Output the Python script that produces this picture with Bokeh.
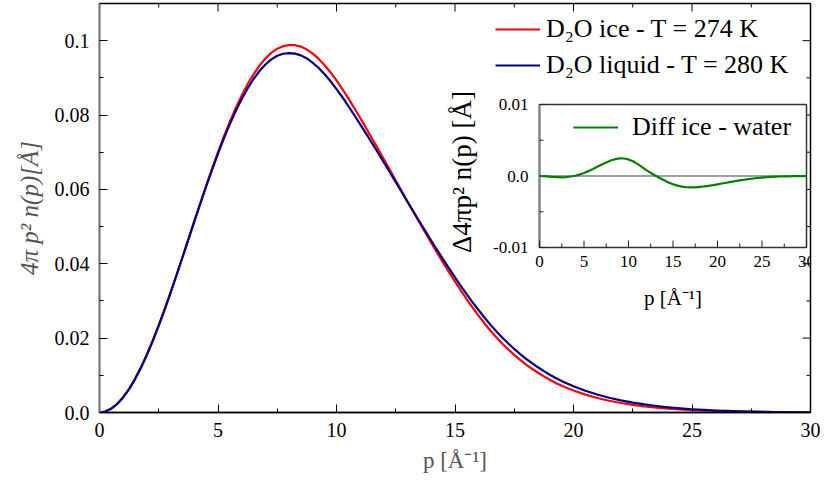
from math import pi
from bokeh.plotting import figure
from bokeh.models import (Range1d, FixedTicker, Legend, LegendItem,
                          ColumnDataSource, Label)
from bokeh.core.properties import value
from bokeh.embed import file_html
from bokeh.resources import INLINE

# ---------------- data ----------------
# momentum grid of the main curves [1/Angstrom]
momentum = [0.0, 0.25, 0.5, 0.75, 1.0, 1.25, 1.5, 1.75, 2.0, 2.25, 2.5, 2.75,
            3.0, 3.25, 3.5, 3.75, 4.0, 4.25, 4.5, 4.75, 5.0, 5.25, 5.5, 5.75,
            6.0, 6.25, 6.5, 6.75, 7.0, 7.25, 7.5, 7.75, 8.0, 8.25, 8.5, 8.75,
            9.0, 9.25, 9.5, 9.75, 10.0, 10.25, 10.5, 10.75, 11.0, 11.25, 11.5, 11.75,
            12.0, 12.25, 12.5, 12.75, 13.0, 13.25, 13.5, 13.75, 14.0, 14.25, 14.5, 14.75,
            15.0, 15.25, 15.5, 15.75, 16.0, 16.25, 16.5, 16.75, 17.0, 17.25, 17.5, 17.75,
            18.0, 18.25, 18.5, 18.75, 19.0, 19.25, 19.5, 19.75, 20.0,
            20.5, 21.0, 21.5, 22.0, 22.5, 23.0, 23.5, 24.0, 24.5, 25.0,
            25.5, 26.0, 26.5, 27.0, 27.5, 28.0, 28.5, 29.0, 29.5, 30.0]

ice_274K = [0.0, 0.00026, 0.00102, 0.00229, 0.00404, 0.00626, 0.00892, 0.01199,
            0.01543, 0.01922, 0.02330, 0.02763, 0.03217, 0.03687, 0.04168, 0.04654,
            0.05141, 0.05624, 0.06098, 0.06559, 0.07003, 0.07426, 0.07823, 0.08191,
            0.08527, 0.08830, 0.09097, 0.09328, 0.09520, 0.09673, 0.09785, 0.09852,
            0.09880, 0.09878, 0.09840, 0.09762, 0.09650, 0.09509, 0.09340, 0.09146,
            0.08930, 0.08698, 0.08450, 0.08189, 0.07920, 0.07647, 0.07370, 0.07091,
            0.06810, 0.06526, 0.06240, 0.05954, 0.05670, 0.05389, 0.05110, 0.04833,
            0.04560, 0.04293, 0.04030, 0.03772, 0.03520, 0.03276, 0.03040, 0.02815,
            0.02600, 0.02394, 0.02200, 0.02019, 0.01850, 0.01694, 0.01550, 0.01415,
            0.01290, 0.01176, 0.01070, 0.00971, 0.00880, 0.00796, 0.00720, 0.00652,
            0.00590,
            0.00480, 0.00390, 0.00315, 0.00255, 0.00205, 0.00165, 0.00132, 0.00105,
            0.00083, 0.00066, 0.00052, 0.00041, 0.00032, 0.00025, 0.00019, 0.00015,
            0.00011, 0.00008, 0.00006, 0.00004]

liquid_280K = [0.0, 0.00028, 0.00105, 0.00235, 0.00412, 0.00637, 0.00905, 0.01214,
               0.01559, 0.01939, 0.02348, 0.02780, 0.03232, 0.03698, 0.04175, 0.04656,
               0.05138, 0.05613, 0.06078, 0.06528, 0.06961, 0.07371, 0.07755, 0.08109,
               0.08430, 0.08718, 0.08969, 0.09184, 0.09360, 0.09498, 0.09595, 0.09649,
               0.09664, 0.09653, 0.09605, 0.09522, 0.09404, 0.09264, 0.09095, 0.08908,
               0.08698, 0.08479, 0.08243, 0.08001, 0.07750, 0.07498, 0.07242, 0.06986,
               0.06727, 0.06463, 0.06197, 0.05929, 0.05662, 0.05399, 0.05137, 0.04877,
               0.04620, 0.04368, 0.04120, 0.03875, 0.03635, 0.03401, 0.03175, 0.02957,
               0.02749, 0.02547, 0.02357, 0.02178, 0.02010, 0.01854, 0.01709, 0.01571,
               0.01443, 0.01326, 0.01216, 0.01113, 0.01017, 0.00928, 0.00847, 0.00774,
               0.00706,
               0.00585, 0.00484, 0.00398, 0.00327, 0.00267, 0.00217, 0.00175, 0.00140,
               0.00111, 0.00088, 0.00069, 0.00054, 0.00042, 0.00032, 0.00024, 0.00019,
               0.00014, 0.00010, 0.00007, 0.00004]

# inset: difference ice - water
momentum_inset = [0.0, 0.5, 1.0, 1.5, 2.0, 2.5, 3.0, 3.5, 4.0, 4.5, 5.0, 5.5, 6.0,
                  6.5, 7.0, 7.5, 8.0, 8.5, 9.0, 9.5, 10.0, 10.5, 11.0, 11.5, 12.0,
                  12.5, 13.0, 13.5, 14.0, 14.5, 15.0, 15.5, 16.0, 16.5, 17.0, 17.5,
                  18.0, 18.5, 19.0, 19.5, 20.0, 20.5, 21.0, 21.5, 22.0, 22.5, 23.0,
                  23.5, 24.0, 24.5, 25.0, 25.5, 26.0, 26.5, 27.0, 27.5, 28.0, 28.5,
                  29.0, 29.5, 30.0]
diff_ice_water = [0.0, -0.00003, -0.00008, -0.00013, -0.00016, -0.00018,
                  -0.00015, -0.00007, 0.00003, 0.00020, 0.00042, 0.00068,
                  0.00097, 0.00128, 0.00160, 0.00190, 0.00216, 0.00235,
                  0.00246, 0.00245, 0.00232, 0.00207, 0.00170, 0.00128,
                  0.00083, 0.00043, 0.00008, -0.00027, -0.00060, -0.00090,
                  -0.00115, -0.00135, -0.00149, -0.00157, -0.00160, -0.00159,
                  -0.00153, -0.00146, -0.00137, -0.00127, -0.00116, -0.00105,
                  -0.00094, -0.00083, -0.00072, -0.00062, -0.00052, -0.00043,
                  -0.00035, -0.00028, -0.00022, -0.00017, -0.00013, -0.00010,
                  -0.00007, -0.00005, -0.00004, -0.00003, -0.00002, -0.00001,
                  0.0]

x_major = [0, 5, 10, 15, 20, 25, 30]
x_minor = [2.5, 7.5, 12.5, 17.5, 22.5, 27.5]
x_labels = ["0", "5", "10", "15", "20", "25", "30"]
y_major = [0.0, 0.02, 0.04, 0.06, 0.08, 0.1]
y_minor = [0.01, 0.03, 0.05, 0.07, 0.09]
y_labels = ["0.0", "0.02", "0.04", "0.06", "0.08", "0.1"]
main_x_limits = (0, 30)
main_y_limits = (0, 0.11)

inset_y_major = [-0.01, 0.0, 0.01]
inset_y_minor = [-0.005, 0.005]
inset_y_labels = ["-0.01", "0.0", "0.01"]
inset_x_limits = (0, 30)
inset_y_limits = (-0.01, 0.01)

labels_legend = ["D\u2082O ice - T = 274 K", "D\u2082O liquid - T = 280 K"]
label_diff = "Diff ice - water"

# ---------------- layout constants (pixels) ----------------
W, H = 827, 486
FL, FR, FT, FB = 99, 810, 3, 412          # main frame
IL, IR, IT, IB = 539, 806, 104, 247       # inset frame
SERIF = "Liberation Serif"
MAJ, MIN = 8, 4                           # tick lengths

p = figure(width=W, height=H, x_range=Range1d(*main_x_limits),
           y_range=Range1d(*main_y_limits),
           output_backend="svg", toolbar_location=None,
           min_border_left=FL, min_border_right=W - FR,
           min_border_top=FT, min_border_bottom=H - FB,
           x_axis_label="p [\u00c5\u207b\u00b9]",
           y_axis_label="4\u03c0 p\u00b2 n(p)[\u00c5]")
p.outline_line_color = "black"
p.outline_line_width = 1.5
p.xgrid.visible = False
p.ygrid.visible = False
p.background_fill_color = "white"
p.border_fill_color = "white"


def style_axis(ax, ticker, line_color="black"):
    ax.ticker = ticker
    ax.major_tick_in = MAJ
    ax.major_tick_out = 0
    ax.minor_tick_in = MIN
    ax.minor_tick_out = 0
    ax.axis_line_color = line_color
    ax.axis_line_width = 1.5
    ax.major_tick_line_color = "black"
    ax.minor_tick_line_color = "black"
    ax.major_label_text_font = SERIF
    ax.major_label_text_color = "black"
    ax.major_label_text_font_size = "20px"
    ax.major_label_standoff = 10
    ax.axis_label_text_font = SERIF
    ax.axis_label_text_color = "#555555"


xa = p.xaxis[0]
style_axis(xa, FixedTicker(ticks=x_major, minor_ticks=x_minor))
xa.major_label_overrides = {v: s for v, s in zip(x_major, x_labels)}
xa.axis_label_text_font_style = "normal"
xa.axis_label_text_font_size = "23px"
xa.axis_label_standoff = 8

ya = p.yaxis[0]
style_axis(ya, FixedTicker(ticks=y_major, minor_ticks=y_minor), line_color="#777777")
ya.major_label_overrides = {v: s for v, s in zip(y_major, y_labels)}
ya.axis_label_text_font_style = "italic"
ya.axis_label_text_font_size = "25px"
ya.axis_label_standoff = 9

# ticks on the top and right edges of the main frame
msx = (FR - FL) / (main_x_limits[1] - main_x_limits[0])
msy = (FB - FT) / (main_y_limits[1] - main_y_limits[0])
ytop = main_y_limits[1]
xright = main_x_limits[1]
p.segment(x0=x_major, x1=x_major, y0=[ytop] * len(x_major),
          y1=[ytop - MAJ / msy] * len(x_major), line_color="black", line_width=1)
p.segment(x0=x_minor, x1=x_minor, y0=[ytop] * len(x_minor),
          y1=[ytop - MIN / msy] * len(x_minor), line_color="black", line_width=1)
p.segment(x0=[xright] * len(y_major), x1=[xright - MAJ / msx] * len(y_major),
          y0=y_major, y1=y_major, line_color="black", line_width=1)
p.segment(x0=[xright] * len(y_minor), x1=[xright - MIN / msx] * len(y_minor),
          y0=y_minor, y1=y_minor, line_color="black", line_width=1)

src = ColumnDataSource(dict(p=momentum, ice=ice_274K, liq=liquid_280K))
r_ice = p.line("p", "ice", source=src, line_color="#ff0000", line_width=2.2,
               line_join="round")
r_liq = p.line("p", "liq", source=src, line_color="#00008b", line_width=2.2,
               line_join="round")

# ---------------- inset, drawn on extra ranges ----------------
x0i, x1i = inset_x_limits
y0i, y1i = inset_y_limits
sx = (IR - IL) / (x1i - x0i)
sy = (IB - IT) / (y1i - y0i)
p.extra_x_ranges = {"ix": Range1d(x0i - (IL - FL) / sx, x1i + (FR - IR) / sx)}
p.extra_y_ranges = {"iy": Range1d(y0i - (FB - IB) / sy, y1i + (IT - FT) / sy)}
kw = dict(x_range_name="ix", y_range_name="iy")

p.quad(left=[x0i], right=[x1i], bottom=[y0i], top=[y1i], fill_color="white",
       line_color="#333333", line_width=1.5, **kw)
p.segment(x0=[x0i], x1=[x0i], y0=[y0i], y1=[y1i], line_color="#808080",
          line_width=2, **kw)
p.segment(x0=[x0i], x1=[x1i], y0=[0.0], y1=[0.0], line_color="#808080",
          line_width=1.5, **kw)
p.segment(x0=x_major, x1=x_major, y0=[y0i] * len(x_major),
          y1=[y0i + 7 / sy] * len(x_major), line_color="#222222", line_width=1, **kw)
p.segment(x0=x_minor, x1=x_minor, y0=[y0i] * len(x_minor),
          y1=[y0i + 4 / sy] * len(x_minor), line_color="#222222", line_width=1, **kw)
p.segment(x0=[x0i] * len(inset_y_major), x1=[x0i + 7 / sx] * len(inset_y_major),
          y0=inset_y_major, y1=inset_y_major, line_color="#222222", line_width=1, **kw)
p.segment(x0=[x0i] * len(inset_y_minor), x1=[x0i + 4 / sx] * len(inset_y_minor),
          y0=inset_y_minor, y1=inset_y_minor, line_color="#222222", line_width=1, **kw)
p.text(x=x_major, y=[y0i] * len(x_major), text=x_labels, text_align="center",
       text_baseline="top", y_offset=8, text_font=value(SERIF),
       text_font_size="17px", text_color="black", **kw)
p.text(x=[x0i] * len(inset_y_major), y=inset_y_major, text=inset_y_labels,
       text_align="right", text_baseline="middle", x_offset=-11,
       text_font=value(SERIF), text_font_size="17px", text_color="black", **kw)

src_i = ColumnDataSource(dict(p=momentum_inset, diff=diff_ice_water))
r_diff = p.line("p", "diff", source=src_i, line_color="#008000", line_width=2.2,
                line_join="round", **kw)

p.add_layout(Label(x=(x0i + x1i) / 2, y=y0i, x_range_name="ix", y_range_name="iy",
                   text="p [\u00c5\u207b\u00b9]", text_align="center",
                   text_baseline="middle", y_offset=-50, text_font=SERIF,
                   text_font_size="21px", text_color="black"))
p.add_layout(Label(x=x0i, y=0.0, x_range_name="ix", y_range_name="iy",
                   text="\u03944\u03c0p\u00b2 n(p) [\u00c5]", angle=pi / 2,
                   text_align="center", text_baseline="middle", x_offset=-78,
                   y_offset=4, text_font=SERIF, text_font_size="27px",
                   text_color="black"))

# ---------------- legends ----------------
leg = Legend(items=[LegendItem(label=labels_legend[0], renderers=[r_ice]),
                    LegendItem(label=labels_legend[1], renderers=[r_liq])],
             location=(396, 332))
leg2 = Legend(items=[LegendItem(label=label_diff, renderers=[r_diff])],
              location=(474, 270))
for lg, stand in ((leg, 6), (leg2, 14)):
    lg.background_fill_alpha = 0
    lg.border_line_alpha = 0
    lg.padding = 0
    lg.margin = 0
    lg.spacing = 6
    lg.glyph_width = 45
    lg.label_standoff = stand
    lg.label_text_font = SERIF
    lg.label_text_font_size = "26px"
    lg.label_text_color = "black"
    p.add_layout(lg, "center")

open("out.html", "w").write(file_html(p, INLINE))
